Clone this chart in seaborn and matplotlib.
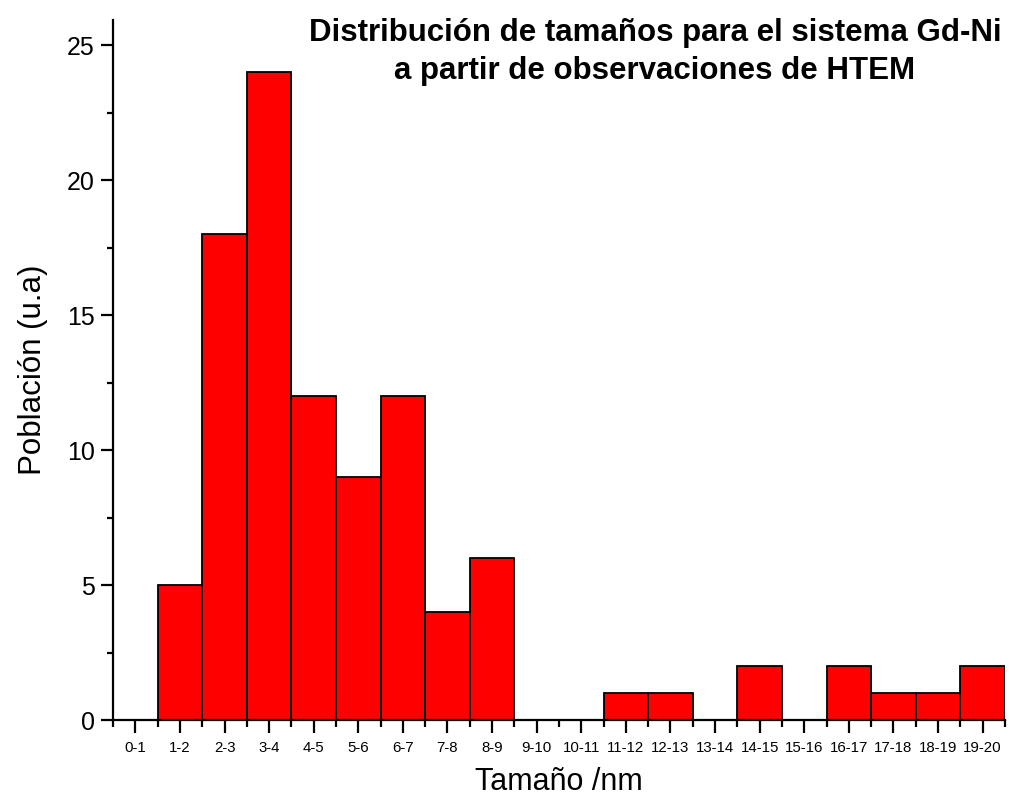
import matplotlib
matplotlib.use("Agg")
import matplotlib.pyplot as plt
import seaborn as sns
import numpy as np
from matplotlib.ticker import FixedLocator, FixedFormatter, MultipleLocator

sns.set_style("white")
plt.rcParams['font.family'] = ['Liberation Sans', 'DejaVu Sans']
plt.rcParams['text.color'] = 'black'
plt.rcParams['axes.labelcolor'] = 'black'
plt.rcParams['xtick.color'] = 'black'
plt.rcParams['ytick.color'] = 'black'

labels = ["0-1", "1-2", "2-3", "3-4", "4-5", "5-6", "6-7", "7-8", "8-9", "9-10",
          "10-11", "11-12", "12-13", "13-14", "14-15", "15-16", "16-17", "17-18", "18-19", "19-20"]
lower = [0, 1, 2, 3, 4, 5, 6, 7, 8, 9, 10, 11, 12, 13, 14, 15, 16, 17, 18, 19]
upper = [1, 2, 3, 4, 5, 6, 7, 8, 9, 10, 11, 12, 13, 14, 15, 16, 17, 18, 19, 20]
counts = [0, 5, 18, 24, 12, 9, 12, 4, 6, 0, 0, 1, 1, 0, 2, 0, 2, 1, 1, 2]

centers = [(a + b) / 2 for a, b in zip(lower, upper)]
edges = lower + [upper[-1]]

fig = plt.figure(figsize=(10.09, 8.01), dpi=100)
ax = fig.add_axes([0.112, 0.1011, 0.884, 0.874])

sns.histplot(x=centers, weights=counts, bins=edges, color="#ff0000", alpha=1,
             edgecolor="black", linewidth=1.3, ax=ax)

ax.set_xlim(0, 20)
ax.set_ylim(0, 25.93)

for s in ["top", "right"]:
    ax.spines[s].set_visible(False)
for s in ["left", "bottom"]:
    ax.spines[s].set_linewidth(1.6)
    ax.spines[s].set_color("black")

ax.xaxis.set_major_locator(FixedLocator(centers))
ax.xaxis.set_major_formatter(FixedFormatter(labels))
ax.xaxis.set_minor_locator(FixedLocator(edges))
ax.set_yticks([0, 5, 10, 15, 20, 25])
ax.yaxis.set_minor_locator(MultipleLocator(2.5))
ax.tick_params(axis="x", which="major", direction="out", length=9, width=1.6,
               labelsize=10.8, bottom=True, pad=6)
ax.tick_params(axis="x", which="minor", direction="out", length=5, width=1.6, bottom=True)
ax.tick_params(axis="y", which="major", direction="out", length=9, width=1.6,
               labelsize=18, left=True, pad=4)
ax.tick_params(axis="y", which="minor", direction="out", length=4, width=1.6, left=True)

ax.set_xlabel("Tamaño /nm", fontsize=22, labelpad=9)
ax.set_ylabel("Población (u.a)", fontsize=22.5, labelpad=14)

fig.text(655 / 1009, 1 - 18 / 801,
         "Distribución de tamaños para el sistema Gd-Ni\na partir de observaciones de HTEM",
         ha="center", va="top", fontsize=22.5, fontweight="bold", linespacing=1.35)

fig.savefig("out.png", dpi=100)
